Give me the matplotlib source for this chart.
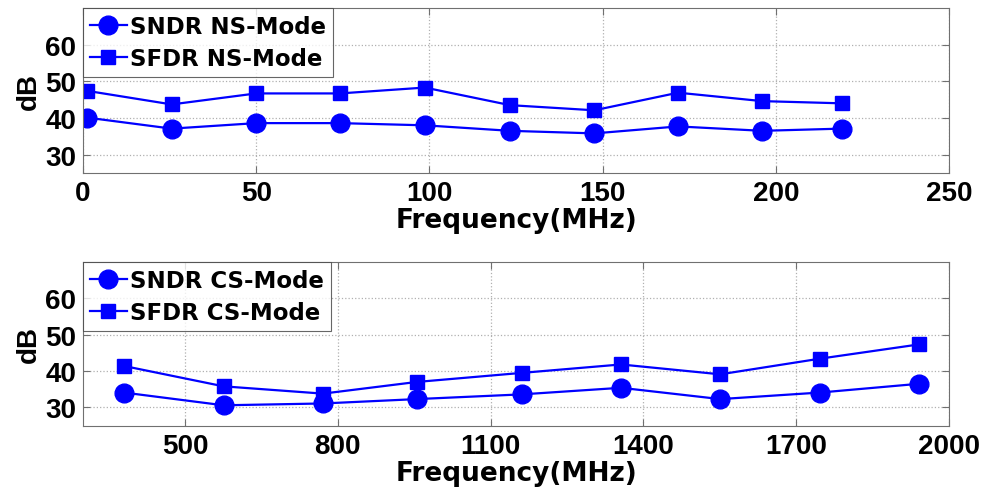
import matplotlib
matplotlib.use("Agg")
import matplotlib.pyplot as plt

# NS-Mode data (top panel)
ns_freq = [1.2, 25.6, 50, 74.2, 98.7, 123.3, 147.6, 171.8, 196.1, 219]
ns_sndr = [40.1, 37.1, 38.6, 38.6, 38.0, 36.5, 35.8, 37.7, 36.5, 37.1]
ns_sfdr = [47.4, 43.7, 46.7, 46.7, 48.3, 43.5, 42.1, 46.9, 44.6, 44.0]

# CS-Mode data (bottom panel)
cs_freq = [380, 576, 771, 955, 1162, 1356, 1551, 1747, 1941]
cs_sndr = [34.1, 30.6, 31.1, 32.3, 33.6, 35.4, 32.3, 34.1, 36.5]
cs_sfdr = [41.4, 35.8, 33.8, 37.0, 39.5, 41.8, 39.1, 43.4, 47.3]

ns_ticks = [0, 50, 100, 150, 200, 250]
cs_ticks = [500, 800, 1100, 1400, 1700, 2000]
y_ticks = [30, 40, 50, 60]

plt.rcParams['font.family'] = ['Liberation Sans', 'DejaVu Sans']
plt.rcParams['font.weight'] = 'bold'

fig = plt.figure(figsize=(9.87, 4.89), dpi=100)
ax1 = fig.add_axes([0.0841, 0.6442, 0.8774, 0.3374])
ax2 = fig.add_axes([0.0841, 0.1274, 0.8774, 0.3354])

blue = '#0000ff'
wide = ['DejaVu Sans']


def style_panel(ax, freq, sndr, sfdr, ticks, xlim, mode):
    ax.plot(freq, sndr, color=blue, lw=1.6, marker='o', ms=13.5,
            label=f'SNDR {mode}-Mode')
    ax.plot(freq, sfdr, color=blue, lw=1.6, marker='s', ms=10.5,
            label=f'SFDR {mode}-Mode')
    ax.set_xlim(*xlim)
    ax.set_ylim(25, 70)
    ax.set_xticks(ticks)
    ax.set_yticks(y_ticks)
    ax.grid(True, linestyle=':', color='#b0b0b0', lw=0.9)
    ax.tick_params(direction='in', top=True, right=True, labelsize=20,
                   color='#707070', length=5, pad=5)
    for s in ax.spines.values():
        s.set_color('#707070')
    for lab in ax.get_xticklabels() + ax.get_yticklabels():
        lab.set_fontweight('bold')
    ax.set_xlabel('Frequency(MHz)', fontsize=19, fontweight='bold',
                  family=wide, labelpad=1)
    ax.set_ylabel('dB', fontsize=20, fontweight='bold', labelpad=2)
    leg = ax.legend(loc='upper left', borderaxespad=0, fancybox=False,
                    prop={'family': wide, 'size': 16.5, 'weight': 'bold'},
                    handlelength=1.6, handletextpad=0.15,
                    borderpad=0.3, labelspacing=0.4)
    leg.get_frame().set_edgecolor('#404040')
    leg.get_frame().set_linewidth(0.8)


style_panel(ax1, ns_freq, ns_sndr, ns_sfdr, ns_ticks, (0, 250), 'NS')
style_panel(ax2, cs_freq, cs_sndr, cs_sfdr, cs_ticks, (300, 2000), 'CS')

fig.savefig('out.png', dpi=100)
